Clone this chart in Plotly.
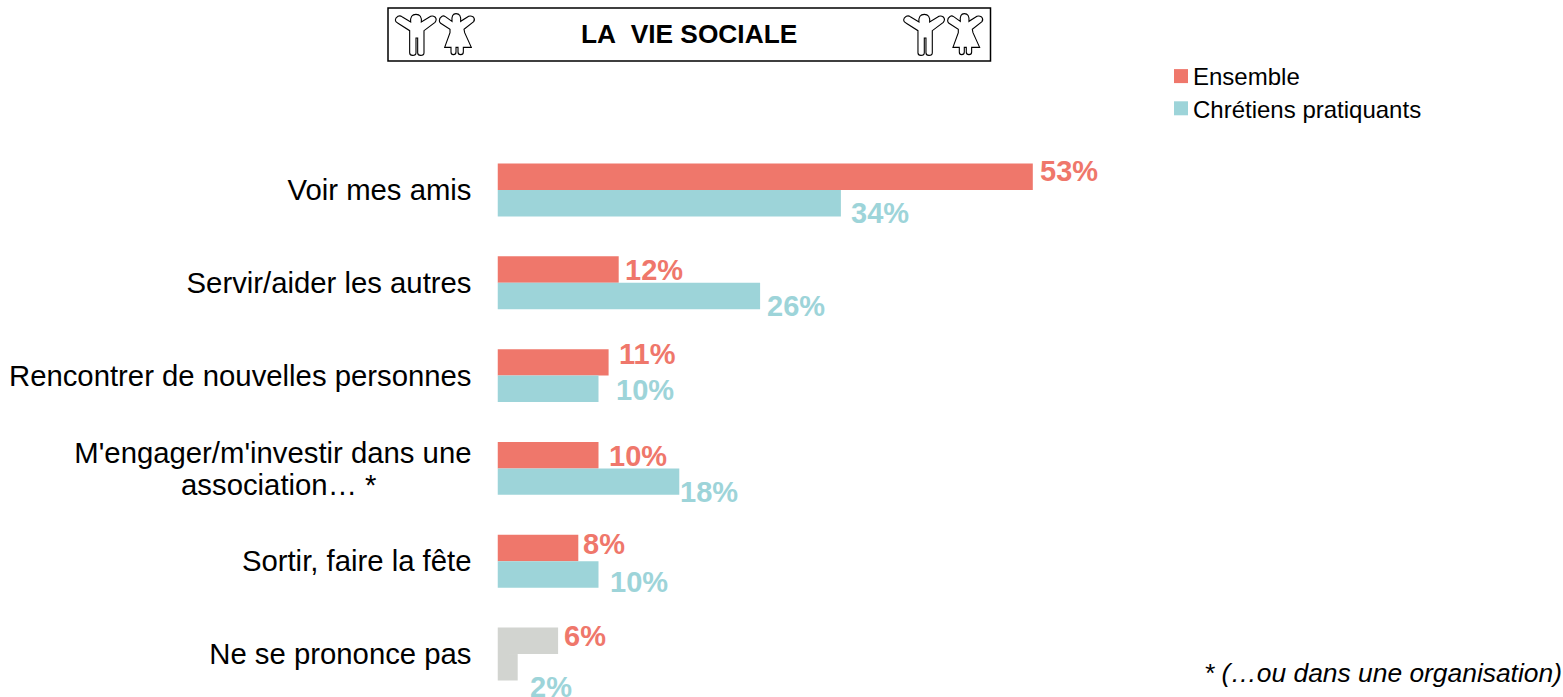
import re
import plotly.graph_objects as go

categories = ["Voir mes amis", "Servir/aider les autres", "Rencontrer de nouvelles personnes",
              "M'engager/m'investir dans une<br>association… *", "Sortir, faire la fête", "Ne se prononce pas"]
ensemble = [53, 12, 11, 10, 8, 6]
chretiens = [34, 26, 10, 18, 10, 2]

RED, TEAL, GREY = "#EF776B", "#9DD4D9", "#D2D4D0"
W, H = 1563, 697
FONT = "Liberation Sans, Arial, sans-serif"

ensemble_colors = [RED] * 5 + [GREY]
chretiens_colors = [TEAL] * 5 + [GREY]
# label nudges in pixels (x, y up), per bar
ens_shift = [(7, 19), (6, 13), (10, 22), (10, 12), (5, 17), (6, 18)]
chr_shift = [(10, -23), (7, -23), (17, -14), (1, -24), (11, -21), (12, -33)]

fig = go.Figure()
fig.add_bar(name="Ensemble", y=categories, x=ensemble, orientation="h",
            marker=dict(color=ensemble_colors, line_width=0), hoverinfo="skip")
fig.add_bar(name="Chrétiens pratiquants", y=categories, x=chretiens, orientation="h",
            marker=dict(color=chretiens_colors, line_width=0), hoverinfo="skip")


def label(cat, v, shift, color):
    fig.add_annotation(x=v, y=cat, xref="x", yref="y", text=f"{v}%", showarrow=False,
                       xanchor="left", yanchor="middle", xshift=shift[0], yshift=shift[1],
                       borderpad=0, borderwidth=0,
                       font=dict(family=FONT, size=29, color=color, weight="bold"))


for c, v, s in zip(categories, ensemble, ens_shift):
    label(c, v, s, RED)
for c, v, s in zip(categories, chretiens, chr_shift):
    label(c, v, s, TEAL)


def px(xp, yp):
    return xp / W, 1 - yp / H


def icon_path(d, ox, oy):
    """Zoomed-icon path units (1/3 px) to paper coordinates."""
    toks = re.findall(r"[MLQZ]|-?\d+\.?\d*", d)
    out, i = [], 0
    while i < len(toks):
        if toks[i] in "MLQZ":
            out.append(toks[i]); i += 1
        else:
            a, b = px(ox + float(toks[i]) / 3, oy + float(toks[i + 1]) / 3)
            out.append(f"{a:.5f},{b:.5f}"); i += 2
    return " ".join(out)


BOY = ("M 16 36 Q 16 30 24 25 Q 30 22 36 26 L 62 42 Q 60 19 78 19 Q 96 19 94 42 L 122 25 Q 128 22 135 27 "
       "Q 142 34 135 43 L 102 68 L 102 134 Q 102 142 92 142 Q 83 142 83 134 L 83 90 L 78 90 L 78 134 "
       "Q 78 142 68 142 Q 59 142 59 134 L 59 68 L 24 46 Q 16 42 16 36 Z")
GIRL = ("M 148 38 Q 148 30 156 25 Q 160 22 166 26 L 186 40 Q 184 17 198 17 Q 214 17 212 40 L 236 25 "
        "Q 242 22 250 27 Q 256 34 251 41 L 222 64 L 224 74 L 244 118 L 220 118 L 220 132 Q 220 140 212 140 "
        "Q 204 140 204 132 L 204 118 L 198 118 L 198 132 Q 198 140 190 140 Q 183 140 183 132 L 183 118 "
        "L 164 118 L 180 74 L 180 64 L 152 46 Q 148 42 148 38 Z")

shapes = []
x0, y1 = px(388, 8)
x1, y0 = px(990.5, 61)
shapes.append(dict(type="rect", xref="paper", yref="paper", x0=x0, x1=x1, y0=y0, y1=y1,
                   line=dict(color="black", width=1.5), fillcolor="white", layer="below"))
for ox in (390, 898.3):
    for d in (BOY, GIRL):
        shapes.append(dict(type="path", xref="paper", yref="paper", path=icon_path(d, ox, 8),
                           line=dict(color="black", width=1.1), fillcolor="white"))

ax, ay = px(688.5, 34)
fig.add_annotation(xref="paper", yref="paper", x=ax, y=ay, xanchor="center", yanchor="middle",
                   text="LA\u00a0 VIE SOCIALE", showarrow=False,
                   font=dict(family=FONT, size=26.3, color="black", weight="bold"))
ax, ay = px(1564, 673)
fig.add_annotation(xref="paper", yref="paper", x=ax, y=ay, xanchor="right", yanchor="middle",
                   text="<i>* (…ou dans une organisation)</i>", showarrow=False,
                   font=dict(family=FONT, size=26.4, color="black"))

fig.update_layout(
    width=W, height=H, margin=dict(l=0, r=0, t=0, b=0), paper_bgcolor="white", plot_bgcolor="white",
    barmode="group", bargap=0.43, bargroupgap=0, shapes=shapes, showlegend=True,
    font=dict(family=FONT, color="black"),
    legend=dict(x=1153 / W, y=1 - 54 / H, xanchor="left", yanchor="top", font=dict(size=24, color="black"),
                bgcolor="rgba(0,0,0,0)", tracegroupgap=0),
    xaxis=dict(domain=[497.5 / W, 1507.5 / W], range=[0, 100], visible=False, fixedrange=True),
    yaxis=dict(domain=[0, 1], range=[5.463, -2.047], type="category", categoryorder="array",
               categoryarray=categories, showline=False, showgrid=False, zeroline=False, ticks="",
               ticklabelstandoff=25, tickfont=dict(size=29.3, color="black", family=FONT), fixedrange=True),
)

post = """
document.body.style.margin = '0';
document.querySelectorAll('.legendsymbols').forEach(function (g) {
  g.setAttribute('transform', 'translate(8,0)');
});
document.querySelectorAll('.legendpoints path').forEach(function (p) {
  p.setAttribute('d', 'M7,7H-7V-7H7Z');
});
var rows = document.querySelectorAll('.legend .traces');
if (rows.length === 2) {
  var m = /translate\\(([^,]+),\\s*([^)]+)\\)/.exec(rows[1].getAttribute('transform'));
  if (m) rows[1].setAttribute('transform', 'translate(' + m[1] + ',' + (parseFloat(m[2]) - 2) + ')');
}
document.querySelectorAll('.ytick text').forEach(function (t) {
  var lines = t.querySelectorAll('tspan.line');
  if (lines.length === 2) {
    lines[0].setAttribute('dy', '3px');
    lines[1].setAttribute('dy', '35px');
    lines[1].setAttribute('dx', '-95');
  }
});
"""
fig.write_html("out.html", config={"displayModeBar": False}, post_script=post)
